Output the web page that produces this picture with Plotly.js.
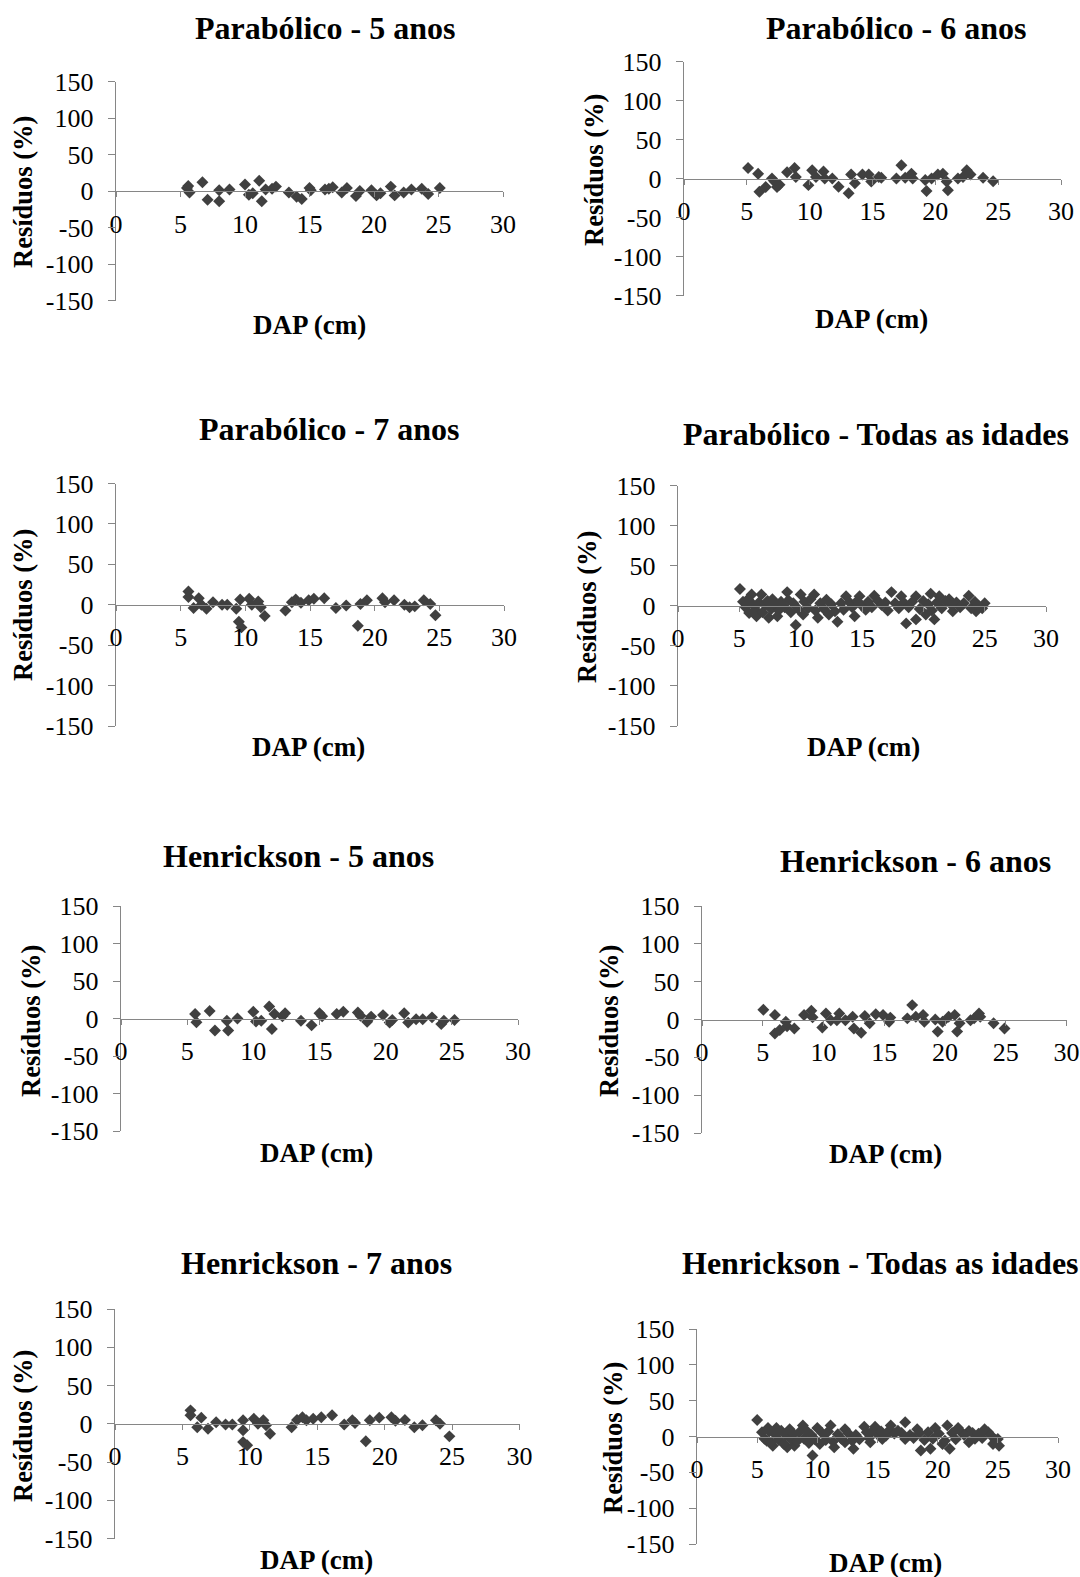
<!DOCTYPE html>
<html>
<head>
<meta charset="utf-8">
<script src="https://cdn.plot.ly/plotly-3.0.1.min.js"></script>
<style>html,body{margin:0;padding:0;background:#fff;}#chart{width:1080px;height:1577px;}</style>
</head>
<body>
<div id="chart"></div>
<script>
// ---- Data (DAP in cm, residuals in %) ----
var titles = ["Parabólico - 5 anos","Parabólico - 6 anos","Parabólico - 7 anos","Parabólico - Todas as idades",
              "Henrickson - 5 anos","Henrickson - 6 anos","Henrickson - 7 anos","Henrickson - Todas as idades"];
var xTitle = "DAP (cm)";
var yTitle = "Resíduos (%)";
var xTickVals = [0,5,10,15,20,25,30];
var xTickText = ["0","5","10","15","20","25","30"];
var yTickVals = [-150,-100,-50,0,50,100,150];
var yTickText = ["-150","-100","-50","0","50","100","150"];

var parab5_dap = [5.5,5.6,5.7,6.7,7.1,8.0,8.0,8.8,10.0,10.3,10.6,11.1,11.3,11.6,12.1,12.4,13.4,14.0,14.4,15.0,15.1,16.2,16.5,16.8,17.5,17.9,18.6,18.9,19.8,20.2,20.5,21.3,21.6,22.3,22.9,23.7,24.2,25.1];
var parab5_res = [4,7,-2,12,-12,-14,1,2,9,-5,-3,14,-14,2,3,6,-2,-8,-11,4,1,2,3,5,-2,4,-7,0,1,-6,-3,6,-6,-2,2,3,-4,4];

var parab6_dap = [5.1,5.9,6.0,6.5,7.0,7.2,7.4,7.6,8.2,8.8,8.9,9.9,10.2,10.5,11.1,11.2,11.8,12.3,13.1,13.3,13.6,14.2,14.7,14.9,15.5,15.7,16.9,17.3,17.6,18.1,18.2,19.2,19.3,19.7,20.2,20.6,20.9,21.0,21.8,22.2,22.5,22.8,23.8,24.6];
var parab6_res = [13.5,6,-17,-11,0,-4,-11,-8,8,13.5,2,-8.5,10.5,2,9,0,0,-10.5,-19,5,-6,5,5,-4,2,1,0,17,1,6,0,-2,-16,0,5,6,-4,-15,0,2,10.5,5,1,-3.5];

var parab7_dap = [5.6,5.6,6.0,6.4,6.6,7.0,7.5,8.2,8.6,9.3,9.6,9.5,9.7,10.3,10.5,11.0,11.2,11.5,13.1,13.6,13.9,14.3,14.9,15.3,16.1,17.0,17.8,18.7,18.9,19.4,20.6,20.8,21.5,22.3,22.7,23.1,23.8,24.3,24.7];
var parab7_res = [16.5,9.5,-4,8,0,-5,3,0,0,-5,6.5,-21,-28,7.5,0,4,-3,-14,-7,3,6.5,2.5,5.5,7.5,8,-4,-1,-26,1,5.5,8,3,5.5,0,-3,-2,5.5,1,-13];

var parabAll_dap = [5.05,6.0,6.8,7.7,8.9,10.0,11.1,12.1,13.7,14.8,16.0,17.4,18.2,19.4,20.6,21.3,22.1,23.7,25.0,
                    5.8,6.4,7.4,8.1,9.6,10.2,11.4,12.3,13.0,14.4,15.3,17.1,18.6,19.4,20.2,20.9,22.4,24.3,24.8,
                    5.3,5.5,5.7,6.1,6.3,6.6,6.9,7.1,7.3,7.6,7.9,8.2,8.4,8.7,9.0,9.2,9.4,9.8,10.3,10.6,10.8,11.2,11.6,11.9,
                    12.5,12.8,13.3,13.5,14.0,14.2,14.6,15.0,15.5,15.8,16.3,16.6,16.9,17.7,18.0,18.4,18.8,19.1,19.7,20.0,
                    20.4,20.7,21.1,21.5,21.8,22.3,22.7,23.0,23.3,23.9,24.2,24.5];
var parabAll_res = [21,14,14,8,17,14,14,7.5,12,12,12.5,17,12,12,15,12,8,12.5,3,
                    -9,-13,-15,-13,-24,-11,-15,-11,-20,-13,-5,-6,-22,-17,-11,-17,-7,-7,-3,
                    5,-2,8,2,-5,4,-8,1,6,-4,2,-6,5,-2,7,-8,3,-4,5,-3,8,-6,3,-4,
                    2,-7,3,-5,4,-2,6,0,5,-2,6,1,4,3,-3,4,-2,5,-4,6,
                    2,-6,4,-3,6,1,4,-2,3,-3,5,0];

var henr5_dap = [5.6,5.7,6.7,7.1,8.0,8.1,8.8,10.0,10.2,10.6,11.2,11.4,11.6,12.2,12.4,13.6,14.4,15.0,15.2,16.3,16.8,17.9,18.1,18.6,18.9,19.8,20.3,20.5,21.4,21.7,22.3,22.8,23.5,24.2,24.4,25.2];
var henr5_res = [6,-5,10,-16,-3,-16,0,9,-4,-3,16,-14,6,3,7,-3,-9,7,3,6,9,8,3.5,-4.5,2.5,4.5,-5.5,-2,7,-5.5,-1,-1,1.5,-7.5,-3,-2];

var henr6_dap = [5.05,6.0,6.0,6.4,6.9,7.0,7.6,8.4,9.0,9.1,9.9,10.2,10.6,11.3,11.1,11.8,12.4,12.5,13.1,13.4,13.8,14.3,14.9,15.4,15.5,16.9,17.3,17.6,18.2,18.3,19.2,19.4,19.8,20.3,20.8,21.0,21.2,22.1,22.4,22.8,22.9,24.0,24.9];
var henr6_res = [13,6,-18.5,-14,-3,-9,-12,6,11.5,3,-10.5,8,-1,8,-1,-1,3.5,-12,-17.5,4.5,-5,7,6,-3,2.5,1.5,19,3.5,6,-3,0,-16,-3,3.5,6,-16,-5,-1,1.5,8,3.5,-5,-12];

var henr7_dap = [5.6,5.6,6.1,6.4,6.9,7.5,8.2,8.7,9.5,9.5,9.5,9.8,10.3,10.6,11.0,11.2,11.5,13.1,13.5,13.9,14.2,14.7,15.3,16.1,17.0,17.6,17.8,18.6,18.9,19.6,20.5,20.8,21.5,22.2,22.8,23.8,24.1,24.8];
var henr7_res = [17.5,11,-4.5,8,-6.5,2,-1,-1,4.5,-8.5,-24,-28,6.5,0,4.5,-2,-13,-4.5,5,8.5,4.5,6.5,8.5,11,-1,4.5,1,-23,4.5,8,8.5,4,5,-4.5,-2,4.5,0,-16.5];

var henrAll_dap = [5.0,5.9,6.6,7.7,8.8,10.0,11.1,12.3,13.9,14.8,16.1,17.3,18.3,19.8,20.8,21.7,22.6,23.9,25.0,
                   5.8,6.3,7.5,8.1,9.6,10.2,11.4,12.3,13.0,14.4,15.4,17.3,18.6,19.4,20.4,21.0,22.6,24.6,25.1,
                   5.4,5.6,6.0,6.2,6.5,6.8,7.0,7.2,7.4,7.8,8.0,8.3,8.5,8.9,9.1,9.3,9.5,9.8,10.4,10.7,10.9,11.3,11.7,12.0,
                   12.6,12.9,13.2,13.5,14.1,14.3,14.6,15.0,15.3,15.7,16.0,16.4,16.7,17.0,17.7,18.0,18.5,18.9,19.2,19.6,
                   20.1,20.6,21.2,21.5,21.9,22.2,22.9,23.1,23.4,23.7,24.2,24.4,24.8];
var henrAll_res = [23,12,12,10,15.5,12,15.5,10,13.7,13.7,15.5,20,10,12,15.5,12,7.8,10,-3.6,
                   -6,-13,-15,-13,-26.5,-10.5,-15,-8,-17,-8,-3.6,-3.6,-19.6,-17,-10.5,-17,-8,-10.5,-13,
                   6,-3,7,-8,3,-5,8,-10,2,-4,4,-7,6,-3,8,-9,2,-4,5,-5,7,-7,3,-3,
                   4,-6,2,-4,6,-2,8,3,7,1,9,4,8,5,2,-2,5,-5,6,-3,
                   4,-6,5,-4,7,2,5,-3,4,-2,6,2,-5];

var dapSeries = [parab5_dap,parab6_dap,parab7_dap,parabAll_dap,henr5_dap,henr6_dap,henr7_dap,henrAll_dap];
var resSeries = [parab5_res,parab6_res,parab7_res,parabAll_res,henr5_res,henr6_res,henr7_res,henrAll_res];

// ---- Panel geometry (pixels in the 1080x1577 page) ----
var W = 1080, H = 1577;
var panels = [
  {x0:116, x30:503,  yTop:81.5,  yBot:300.5, tx:325, ty:28,   ytx:23,  yty:192,  xtx:309, xty:325},
  {x0:684, x30:1061, yTop:61.5,  yBot:295.5, tx:896, ty:28,   ytx:594, yty:170,  xtx:871, xty:319},
  {x0:116, x30:504,  yTop:483.5, yBot:726,   tx:329, ty:429,  ytx:23,  yty:605,  xtx:308, xty:747},
  {x0:678, x30:1046, yTop:485.5, yBot:726,   tx:876, ty:434,  ytx:587, yty:607,  xtx:863, xty:747},
  {x0:121, x30:518,  yTop:906,   yBot:1131,  tx:298, ty:856,  ytx:31,  yty:1021, xtx:316, xty:1153},
  {x0:702, x30:1066.5,yTop:906,  yBot:1133,  tx:915, ty:861,  ytx:609, yty:1021, xtx:885, xty:1154},
  {x0:115, x30:519.5,yTop:1309,  yBot:1538.5,tx:316, ty:1263, ytx:23,  yty:1426, xtx:316, xty:1560},
  {x0:697, x30:1058, yTop:1329,  yBot:1544,  tx:880, ty:1263, ytx:613, yty:1438, xtx:885, xty:1563}
];

var serif = "Liberation Serif, Times New Roman, serif";
var axisColor = "#868686";
var markerColor = "#404040";

var data = [];
var layout = {
  width: W, height: H,
  margin: {l:0, r:0, t:0, b:0, pad:0},
  paper_bgcolor: "#ffffff", plot_bgcolor: "rgba(0,0,0,0)",
  showlegend: false,
  annotations: []
};

panels.forEach(function(p, i) {
  var n = i + 1;
  var xa = "x" + (n === 1 ? "" : n), ya = "y" + (n === 1 ? "" : n);
  data.push({
    type: "scatter", mode: "markers",
    x: dapSeries[i], y: resSeries[i],
    xaxis: xa, yaxis: ya,
    marker: {symbol: "diamond", size: 9.2, color: markerColor},
    cliponaxis: false, hoverinfo: "x+y"
  });
  var y0px = (p.yTop + p.yBot) / 2;
  layout["xaxis" + (n === 1 ? "" : n)] = {
    domain: [p.x0 / W, p.x30 / W],
    range: [0, 30], fixedrange: true,
    anchor: "free", position: 1 - y0px / H,
    tickmode: "array", tickvals: xTickVals, ticktext: xTickText,
    ticks: "outside", ticklen: 5, tickwidth: 1, tickcolor: axisColor,
    ticklabelstandoff: 4,
    showline: true, linecolor: axisColor, linewidth: 1.3,
    showgrid: false, zeroline: false,
    tickfont: {family: serif, size: 26, color: "#000"}
  };
  layout["yaxis" + (n === 1 ? "" : n)] = {
    domain: [1 - p.yBot / H, 1 - p.yTop / H],
    range: [-150, 150], fixedrange: true,
    anchor: xa,
    tickmode: "array", tickvals: yTickVals, ticktext: yTickText,
    ticks: "outside", ticklen: 7, tickwidth: 1, tickcolor: axisColor,
    ticklabelstandoff: 9,
    showline: true, linecolor: axisColor, linewidth: 1.3,
    showgrid: false, zeroline: false,
    tickfont: {family: serif, size: 26, color: "#000"}
  };
  layout.annotations.push({
    xref: "paper", yref: "paper", x: p.tx / W, y: 1 - p.ty / H,
    xanchor: "center", yanchor: "middle", showarrow: false,
    text: "<b>" + titles[i] + "</b>",
    font: {family: serif, size: 32, color: "#000"}
  });
  layout.annotations.push({
    xref: "paper", yref: "paper", x: p.ytx / W, y: 1 - p.yty / H,
    xanchor: "center", yanchor: "middle", showarrow: false, textangle: -90,
    text: "<b>" + yTitle + "</b>",
    font: {family: serif, size: 26.5, color: "#000"}
  });
  layout.annotations.push({
    xref: "paper", yref: "paper", x: p.xtx / W, y: 1 - p.xty / H,
    xanchor: "center", yanchor: "middle", showarrow: false,
    text: "<b>" + xTitle + "</b>",
    font: {family: serif, size: 27, color: "#000"}
  });
});

Plotly.newPlot("chart", data, layout, {displayModeBar: false, staticPlot: true});
</script>
</body>
</html>
